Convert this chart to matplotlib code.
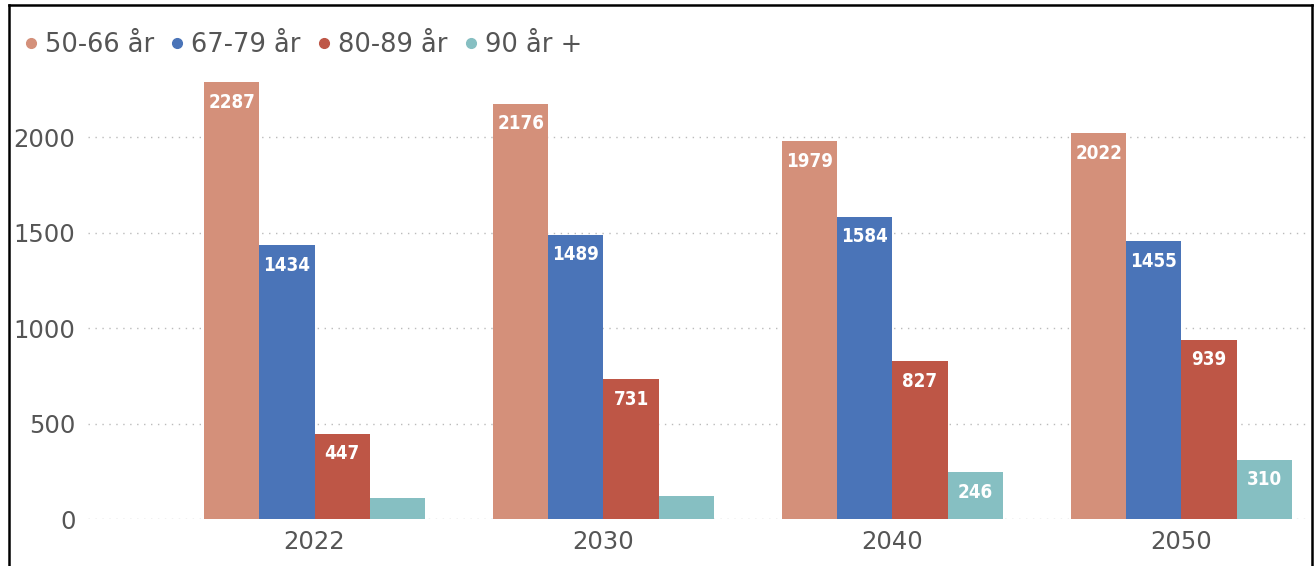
import matplotlib
matplotlib.use("Agg")
import matplotlib.pyplot as plt
import numpy as np
from matplotlib.lines import Line2D

years = ["2022", "2030", "2040", "2050"]
series_names = ["50-66 år", "67-79 år", "80-89 år", "90 år +"]
v_50_66 = [2287, 2176, 1979, 2022]
v_67_79 = [1434, 1489, 1584, 1455]
v_80_89 = [447, 731, 827, 939]
v_90 = [110, 120, 246, 310]
show_label_90 = [False, False, True, True]
colors = ["#D4907A", "#4A74B8", "#BE5646", "#86BFC2"]
yticks = [0, 500, 1000, 1500, 2000]

plt.rcParams['font.family'] = ['DejaVu Sans']
fig = plt.figure(figsize=(13.15, 5.66), dpi=100)
ax = fig.add_axes([0.0669, 0.0830, 0.9293, 0.786])

x = np.arange(len(years))
w = 0.191
all_series = [v_50_66, v_67_79, v_80_89, v_90]
for i, (vals, c) in enumerate(zip(all_series, colors)):
    pos = x + (i - 1.5) * w
    bars = ax.bar(pos, vals, width=w, color=c, zorder=3)
    for j, (b, v) in enumerate(zip(bars, vals)):
        if i == 3 and not show_label_90[j]:
            continue
        ax.annotate(str(v), (b.get_x() + b.get_width() / 2, v),
                    xytext=(0, -14.5), textcoords="offset points",
                    ha="center", va="center", color="white",
                    fontsize=13.5, fontweight="semibold", fontstretch="condensed",
                    zorder=4)

ax.set_xlim(-0.784, 3.445)
ax.set_ylim(0, 2330)
ax.set_yticks(yticks)
ax.set_yticklabels([str(t) for t in yticks])
ax.set_xticks(x)
ax.set_xticklabels(years)
ax.tick_params(axis="both", length=0, labelsize=17.5, colors="#555555")
ax.tick_params(axis="y", pad=9)
ax.tick_params(axis="x", pad=8)
ax.yaxis.grid(True, linestyle=(0, (1, 4)), color="#BBBBBB", linewidth=1, zorder=0)
for s in ax.spines.values():
    s.set_visible(False)

handles = [Line2D([0], [0], marker="o", linestyle="none", markersize=7,
                  markerfacecolor=c, markeredgecolor=c) for c in colors]
fig.legend(handles, series_names, loc="upper left", bbox_to_anchor=(0.0, 0.975),
           ncol=4, frameon=False, fontsize=18.5, handletextpad=0.05,
           columnspacing=0.4, handlelength=1.0, labelcolor="#555555",
           borderaxespad=0.3)

# outer frame
fig.add_artist(Line2D([0.0065, 0.0065], [0.0, 0.991], transform=fig.transFigure, color="black", linewidth=1.8))
fig.add_artist(Line2D([0.0065, 0.9975], [0.991, 0.991], transform=fig.transFigure, color="black", linewidth=1.8))
fig.add_artist(Line2D([0.9975, 0.9975], [0.0, 0.991], transform=fig.transFigure, color="black", linewidth=1.8))

fig.savefig("out.png", dpi=100)
